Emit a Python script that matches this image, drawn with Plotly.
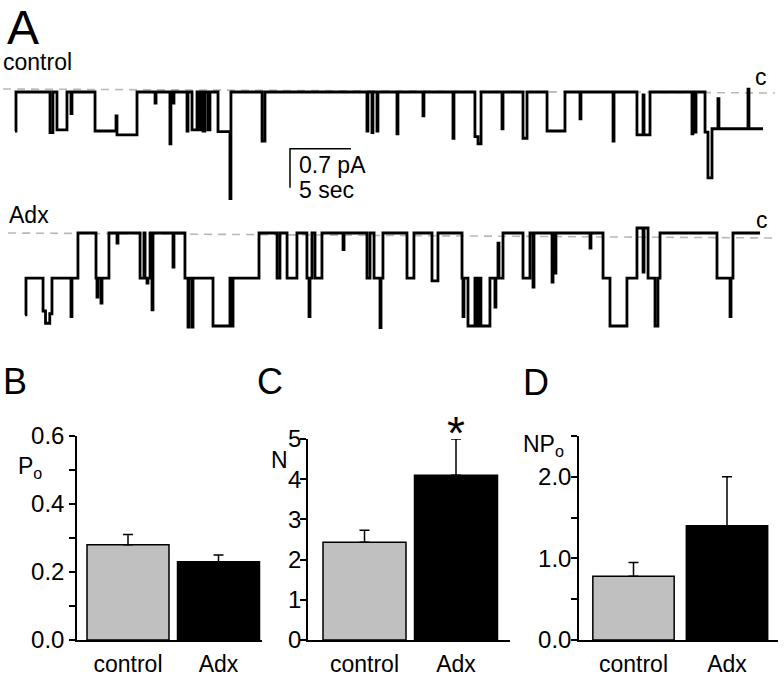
import plotly.graph_objects as go

W, H = 784, 680
FONT = "Liberation Sans, Arial, sans-serif"

# ---------------- Panel A: single-channel recordings ----------------
# step breakpoints: time (s) and current (pA); 0 = closed level
ctrl_time = [0.00, 0.08, 2.87, 3.11, 3.44, 4.26, 4.59, 4.67, 6.56, 8.28, 8.36, 10.00,
             11.48, 11.56, 12.70, 12.78, 12.95, 13.03, 14.10, 14.18, 14.51, 14.92, 15.08,
             15.25, 15.41, 15.57, 15.82, 15.98, 16.64, 17.62, 17.70, 20.25, 20.49, 28.85,
             28.93, 29.26, 29.34, 29.67, 29.75, 31.31, 31.39, 33.44, 33.52, 35.90, 35.98,
             37.70, 37.95, 38.20, 39.92, 40.00, 41.64, 41.97, 43.61, 45.08, 46.31, 46.39,
             49.02, 49.10, 50.98, 51.48, 51.56, 52.05, 55.49, 55.57, 55.74, 55.82, 56.56,
             56.80, 57.13, 57.62, 57.70, 60.08, 60.16, 61.31]
ctrl_current = [-0.70, 0.00, -0.73, 0.00, -0.68, 0.00, -0.39, 0.00, -0.70, -0.43, -0.77, 0.00,
                -0.20, 0.00, -0.93, 0.00, -0.20, 0.00, -0.70, 0.00, -0.68, 0.00, -0.68,
                0.00, -0.70, 0.00, -0.68, 0.00, -0.71, -1.95, 0.00, -0.88, 0.00, -0.70,
                0.00, -0.73, 0.00, -0.70, 0.00, -0.75, 0.00, -0.43, 0.00, -0.83, 0.00,
                -0.80, -0.93, 0.00, -0.66, 0.00, -0.83, 0.00, -0.70, 0.00, -0.48, 0.00,
                -0.88, 0.00, -0.77, -0.05, -0.77, 0.00, -0.75, 0.00, -0.72, 0.00, -0.72,
                -1.54, -0.66, -0.12, -0.66, 0.05, -0.66, -0.66]

adx_time = [0.82, 0.90, 2.30, 2.50, 2.85, 3.03, 4.59, 4.67, 5.16, 6.64, 6.72, 6.80, 7.05,
            7.13, 7.70, 8.36, 8.44, 10.25, 10.57, 10.66, 10.82, 10.90, 11.07, 11.23, 11.31,
            12.95, 13.03, 13.93, 14.18, 14.26, 14.51, 14.59, 16.23, 17.62, 17.70, 17.87,
            20.00, 21.48, 21.72, 22.30, 23.11, 23.93, 24.10, 24.18, 24.34, 24.59, 25.16,
            26.89, 26.97, 28.85, 29.10, 29.43, 29.92, 30.00, 30.16, 32.13, 32.70, 34.18,
            34.67, 36.64, 36.72, 36.80, 37.13, 37.70, 37.78, 37.87, 37.95, 38.11, 38.19,
            38.93, 39.34, 39.42, 39.59, 39.67, 40.00, 41.64, 42.21, 42.46, 42.54, 44.02,
            44.10, 44.26, 44.34, 47.13, 47.21, 48.20, 48.77, 50.16, 50.98, 51.48, 51.56,
            51.89, 52.46, 52.70, 52.87, 57.54, 58.61, 58.69, 58.85, 61.07]
adx_current = [-1.47, -0.81, -1.40, -1.62, -1.45, -0.81, -1.50, -0.81, 0.00, -0.81, -1.15, -0.81, -1.26,
               -0.81, 0.00, -0.18, 0.00, -0.81, 0.00, -0.81, -0.90, -0.81, 0.00, -1.38, 0.00,
               -0.61, 0.00, -0.81, -1.69, -0.81, -1.69, -0.81, -1.67, -0.81, -1.67, -0.81,
               0.00, -0.81, 0.00, -0.81, 0.00, -0.81, -1.50, -0.81, 0.00, -0.81, 0.00,
               -0.30, 0.00, -0.81, 0.00, -0.81, -1.70, -0.81, 0.00, -0.81, 0.00, -0.86,
               0.00, -0.81, -1.50, -0.81, -1.67, -0.81, -1.67, -0.81, -1.67, -0.81, -1.67,
               -0.81, -1.33, -0.81, -0.18, -0.81, 0.00, -0.81, 0.00, -0.97, 0.00, -0.88,
               0.00, -0.72, 0.00, -0.27, 0.00, -0.81, -1.67, -0.81, 0.09, -0.70, 0.09,
               -0.81, -1.67, -0.81, 0.00, -0.81, -1.50, -0.81, 0.00, 0.00]

# closed-level reference lines (dashed), start/end
ctrl_closed_t = [-0.98, 62.30]
ctrl_closed_i = [0.054, -0.018]
adx_closed_t = [-0.57, 62.30]
adx_closed_i = [0.0, -0.09]

scale_pA = 0.7
scale_sec = 5.0
scale_t0 = 22.54
scale_i0 = -1.02

# ---------------- Panels B-D: summary bars ----------------
categories = ["control", "Adx"]
po_mean = [0.28, 0.23]
po_sem = [0.03, 0.02]
n_mean = [2.43, 4.10]
n_sem = [0.30, 0.90]
npo_mean = [0.78, 1.40]
npo_sem = [0.17, 0.60]

bar_colors = ["#c0c0c0", "#000000"]


def px(x):
    return x / W


def py(y):
    return 1 - y / H


fig = go.Figure()

# dashed closed-level lines
for t, i, ya in [(ctrl_closed_t, ctrl_closed_i, "y"), (adx_closed_t, adx_closed_i, "y2")]:
    fig.add_trace(go.Scatter(x=t, y=i, mode="lines", xaxis="x", yaxis=ya,
                             line=dict(color="#b8b8b8", width=1.6, dash="8px,6px"),
                             hoverinfo="skip", showlegend=False))

fig.add_trace(go.Scatter(x=ctrl_time, y=ctrl_current, mode="lines", line_shape="hv",
                         xaxis="x", yaxis="y", line=dict(color="black", width=2.8),
                         showlegend=False, name="control"))
fig.add_trace(go.Scatter(x=adx_time, y=adx_current, mode="lines", line_shape="hv",
                         xaxis="x", yaxis="y2", line=dict(color="black", width=2.8),
                         showlegend=False, name="Adx"))

# scale bar
fig.add_trace(go.Scatter(x=[scale_t0 + scale_sec, scale_t0, scale_t0],
                         y=[scale_i0, scale_i0, scale_i0 - scale_pA],
                         mode="lines", xaxis="x", yaxis="y",
                         line=dict(color="black", width=1.5), hoverinfo="skip", showlegend=False))


def add_bars(xa, ya, mean, sem, bw):
    fig.add_trace(go.Bar(x=[0, 1], y=mean, width=bw, xaxis=xa, yaxis=ya,
                         marker=dict(color=bar_colors, line=dict(color="black", width=1.5)),
                         error_y=dict(type="data", symmetric=False, array=sem, arrayminus=[0, 0],
                                      color="black", thickness=1.5, width=5),
                         showlegend=False))


add_bars("x2", "y3", po_mean, po_sem, 0.906)
add_bars("x3", "y4", n_mean, n_sem, 0.907)
add_bars("x4", "y5", npo_mean, npo_sem, 0.87)

t_left = -15 / 12.2
t_right = (784 - 15) / 12.2

layout = dict(
    width=W, height=H, margin=dict(l=0, r=0, t=0, b=0, pad=0, autoexpand=False),
    paper_bgcolor="white", plot_bgcolor="white",
    font=dict(family=FONT, color="black"),
    showlegend=False,
    xaxis=dict(domain=[0, 1], range=[t_left, t_right], visible=False, anchor="y"),
    yaxis=dict(domain=[py(205), py(60)], range=[-(205 - 92) / 55.7, (92 - 60) / 55.7],
               visible=False, anchor="x"),
    yaxis2=dict(domain=[py(345), py(200)], range=[-(345 - 233) / 55.7, (233 - 200) / 55.7],
                visible=False, anchor="x"),
)

common_x = dict(showline=True, linecolor="black", linewidth=1.5, showgrid=False, zeroline=False,
                tickvals=[0, 1], ticktext=categories, ticks="outside", ticklen=3,
                tickcolor="rgba(0,0,0,0)", tickfont=dict(size=23, family=FONT), automargin=False)
common_y = dict(showline=True, linecolor="black", linewidth=1.5, showgrid=False, zeroline=False,
                ticks="outside", ticklen=6, tickwidth=1.5, tickcolor="black",
                tickfont=dict(size=24, family=FONT), automargin=False)

ydom = [py(640), py(436)]

layout["xaxis2"] = dict(common_x, domain=[px(77), px(262)], range=[-51 / 90.5, 134 / 90.5], anchor="y3")
layout["yaxis3"] = dict(common_y, domain=ydom, range=[0, 0.6], anchor="x2",
                        tickvals=[0, 0.1, 0.2, 0.3, 0.4, 0.5, 0.6],
                        ticktext=["0.0", "", "0.2", "", "0.4", "", "0.6"])
layout["xaxis3"] = dict(common_x, domain=[px(308), px(510)], range=[-56.5 / 91.5, 145.5 / 91.5], anchor="y4")
layout["yaxis4"] = dict(common_y, domain=[py(640), py(439)], range=[0, 5], anchor="x3",
                        ticklabelstandoff=-6,
                        tickvals=[0, 1, 2, 3, 4, 5], ticktext=["0", "1", "2", "3", "4", "5"])
layout["xaxis4"] = dict(common_x, domain=[px(579), px(778)], range=[-54.5 / 93.5, 144.5 / 93.5], anchor="y5")
layout["yaxis5"] = dict(common_y, domain=ydom, range=[0, 2.5], anchor="x4",
                        ticklabelstandoff=-5,
                        tickvals=[0, 0.5, 1.0, 1.5, 2.0, 2.5],
                        ticktext=["0.0", "", "1.0", "", "2.0", ""])


def ann(text, x, y, size, xanchor="left"):
    return dict(text=text, x=px(x), y=py(y), xref="paper", yref="paper", showarrow=False,
                xanchor=xanchor, yanchor="middle", font=dict(size=size, family=FONT, color="black"))


layout["annotations"] = [
    ann("A", 5, 28, 48),
    ann("control", 1, 62, 23),
    ann("c", 761, 77, 23, "center"),
    ann("Adx", 7, 215, 23),
    ann("c", 762, 220, 23, "center"),
    ann("0.7 pA", 297, 165, 23),
    ann("5 sec", 297, 190, 23),
    ann("B", 1, 381, 36),
    ann("C", 255, 381, 36),
    ann("D", 521, 382, 36),
    ann("P<sub>o</sub>", 16, 467, 23),
    ann("N", 269, 460, 23),
    ann("NP<sub>o</sub>", 521, 445, 23),
    ann("*", 456, 433, 46, "center"),
]

fig.update_layout(**layout)
fig.write_html("out.html", config={"displayModeBar": False},
               post_script="document.body.style.margin='0px';document.body.style.overflow='hidden';")
